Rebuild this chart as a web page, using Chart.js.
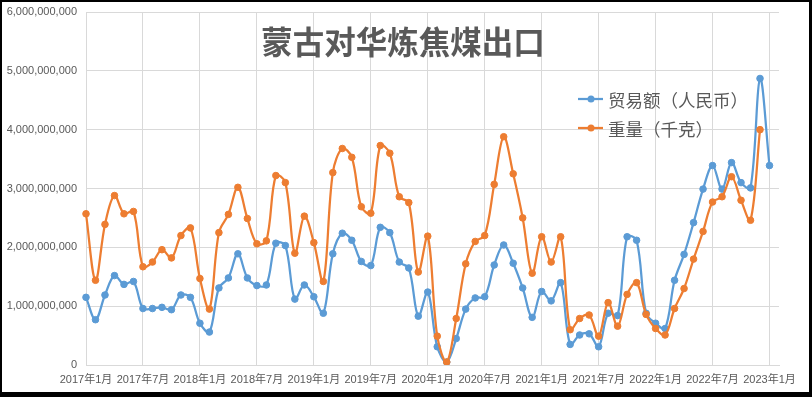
<!DOCTYPE html>
<html>
<head>
<meta charset="utf-8">
<script src="https://cdn.jsdelivr.net/npm/chart.js@4.4.1/dist/chart.umd.min.js"></script>
<style>
  html, body { margin: 0; padding: 0; background: #000; }
  #wrap { position: absolute; left: 2px; top: 2px; width: 807px; height: 390px; background: #fff; }
  canvas { display: block; }
</style>
</head>
<body>
<div id="wrap"><canvas id="c" width="807" height="390"></canvas></div>
<script>
const chartTitle = '蒙古对华炼焦煤出口';
const seriesNames = ['贸易额（人民币）', '重量（千克）'];

const months = [
  '2017年1月','2017年2月','2017年3月','2017年4月','2017年5月','2017年6月','2017年7月','2017年8月','2017年9月','2017年10月','2017年11月','2017年12月',
  '2018年1月','2018年2月','2018年3月','2018年4月','2018年5月','2018年6月','2018年7月','2018年8月','2018年9月','2018年10月','2018年11月','2018年12月',
  '2019年1月','2019年2月','2019年3月','2019年4月','2019年5月','2019年6月','2019年7月','2019年8月','2019年9月','2019年10月','2019年11月','2019年12月',
  '2020年1月','2020年2月','2020年3月','2020年4月','2020年5月','2020年6月','2020年7月','2020年8月','2020年9月','2020年10月','2020年11月','2020年12月',
  '2021年1月','2021年2月','2021年3月','2021年4月','2021年5月','2021年6月','2021年7月','2021年8月','2021年9月','2021年10月','2021年11月','2021年12月',
  '2022年1月','2022年2月','2022年3月','2022年4月','2022年5月','2022年6月','2022年7月','2022年8月','2022年9月','2022年10月','2022年11月','2022年12月',
  '2023年1月','2023年2月'
];

const xTickLabels = ['2017年1月','2017年7月','2018年1月','2018年7月','2019年1月','2019年7月','2020年1月','2020年7月','2021年1月','2021年7月','2022年1月','2022年7月','2023年1月'];

const tradeValue = [
  1.15e9,0.77e9,1.19e9,1.52e9,1.37e9,1.42e9,0.96e9,0.96e9,0.98e9,0.94e9,1.19e9,1.15e9,
  0.71e9,0.56e9,1.31e9,1.48e9,1.89e9,1.48e9,1.35e9,1.36e9,2.07e9,2.03e9,1.12e9,1.36e9,
  1.16e9,0.88e9,1.89e9,2.24e9,2.12e9,1.76e9,1.69e9,2.34e9,2.25e9,1.75e9,1.65e9,0.83e9,
  1.24e9,0.31e9,0.05e9,0.45e9,0.95e9,1.14e9,1.16e9,1.70e9,2.04e9,1.73e9,1.31e9,0.81e9,
  1.25e9,1.09e9,1.40e9,0.35e9,0.51e9,0.53e9,0.31e9,0.88e9,0.84e9,2.18e9,2.12e9,0.88e9,
  0.71e9,0.62e9,1.44e9,1.88e9,2.42e9,2.99e9,3.39e9,2.99e9,3.44e9,3.10e9,3.01e9,4.87e9,
  3.39e9
];

const weightKg = [
  2.57e9,1.44e9,2.39e9,2.88e9,2.57e9,2.61e9,1.67e9,1.75e9,1.96e9,1.82e9,2.20e9,2.33e9,
  1.47e9,0.95e9,2.25e9,2.56e9,3.02e9,2.49e9,2.06e9,2.11e9,3.22e9,3.10e9,1.90e9,2.53e9,
  2.08e9,1.42e9,3.27e9,3.68e9,3.53e9,2.69e9,2.58e9,3.73e9,3.60e9,2.86e9,2.76e9,1.58e9,
  2.19e9,0.49e9,0.05e9,0.79e9,1.72e9,2.10e9,2.20e9,3.07e9,3.88e9,3.25e9,2.50e9,1.56e9,
  2.18e9,1.75e9,2.18e9,0.60e9,0.79e9,0.85e9,0.49e9,1.06e9,0.66e9,1.20e9,1.40e9,0.86e9,
  0.62e9,0.51e9,0.96e9,1.30e9,1.80e9,2.27e9,2.77e9,2.86e9,3.20e9,2.80e9,2.46e9,4.00e9
];

const colors = ['#5B9BD5', '#ED7D31'];
const FONT = '"Liberation Sans", "Noto Sans CJK SC", sans-serif';
const CJK = '"Noto Sans CJK SC", sans-serif';
const GRID = '#d9d9d9';
const TEXT = '#595959';

const overlay = {
  id: 'overlay',
  afterDraw(chart) {
    const ctx = chart.ctx;
    ctx.save();
    // title
    ctx.fillStyle = TEXT;
    ctx.font = 'bold 31.5px ' + CJK;
    ctx.textAlign = 'center';
    ctx.textBaseline = 'middle';
    ctx.fillText(chartTitle, 401, 40);
    // legend
    ctx.font = '17.5px ' + CJK;
    ctx.textAlign = 'left';
    seriesNames.forEach((name, i) => {
      const y = 97 + i * 29;
      ctx.strokeStyle = colors[i];
      ctx.lineWidth = 2.25;
      ctx.beginPath();
      ctx.moveTo(576, y);
      ctx.lineTo(601, y);
      ctx.stroke();
      ctx.fillStyle = colors[i];
      ctx.beginPath();
      ctx.arc(589, y, 3.5, 0, Math.PI * 2);
      ctx.fill();
      ctx.fillStyle = TEXT;
      ctx.fillText(name, 606, y + 1);
    });
    ctx.restore();
  }
};

function ds(label, data, color, order) {
  return {
    label, data, order,
    borderColor: color,
    backgroundColor: color,
    pointBackgroundColor: color,
    pointBorderColor: color,
    borderWidth: 2.25,
    pointRadius: 3.3,
    pointBorderWidth: 1,
    tension: 0.35,
    fill: false
  };
}

new Chart(document.getElementById('c'), {
  type: 'line',
  data: {
    labels: months,
    datasets: [
      ds(seriesNames[0], tradeValue, colors[0], 1),
      ds(seriesNames[1], weightKg, colors[1], 0)
    ]
  },
  options: {
    responsive: false,
    animation: false,
    devicePixelRatio: 1,
    layout: { padding: { left: 0, right: 30, top: 10, bottom: 0 } },
    plugins: {
      legend: { display: false },
      title: { display: false },
      tooltip: { enabled: false }
    },
    scales: {
      x: {
        offset: false,
        grid: {
          color: (c) => (c.index % 6 === 0 ? GRID : 'rgba(0,0,0,0)'),
          lineWidth: 1,
          drawTicks: false
        },
        border: { color: GRID, width: 1 },
        ticks: {
          autoSkip: false,
          maxRotation: 0,
          minRotation: 0,
          padding: 8,
          color: TEXT,
          font: { size: 11, family: FONT },
          callback: (v, i) => (xTickLabels.includes(months[i]) ? months[i] : '')
        },
        afterFit: (s) => { s.height = 27; s.paddingLeft = 0; s.paddingRight = 0; }
      },
      y: {
        min: 0,
        max: 6e9,
        grid: { color: GRID, lineWidth: 1, drawTicks: false },
        border: { color: GRID, width: 1 },
        ticks: {
          stepSize: 1e9,
          padding: 9,
          color: TEXT,
          font: { size: 11, family: FONT },
          callback: (v) => Number(v).toLocaleString('en-US')
        },
        afterFit: (s) => { s.width = 84; s.paddingTop = 0; s.paddingBottom = 0; }
      }
    }
  },
  plugins: [overlay]
});
</script>
</body>
</html>
